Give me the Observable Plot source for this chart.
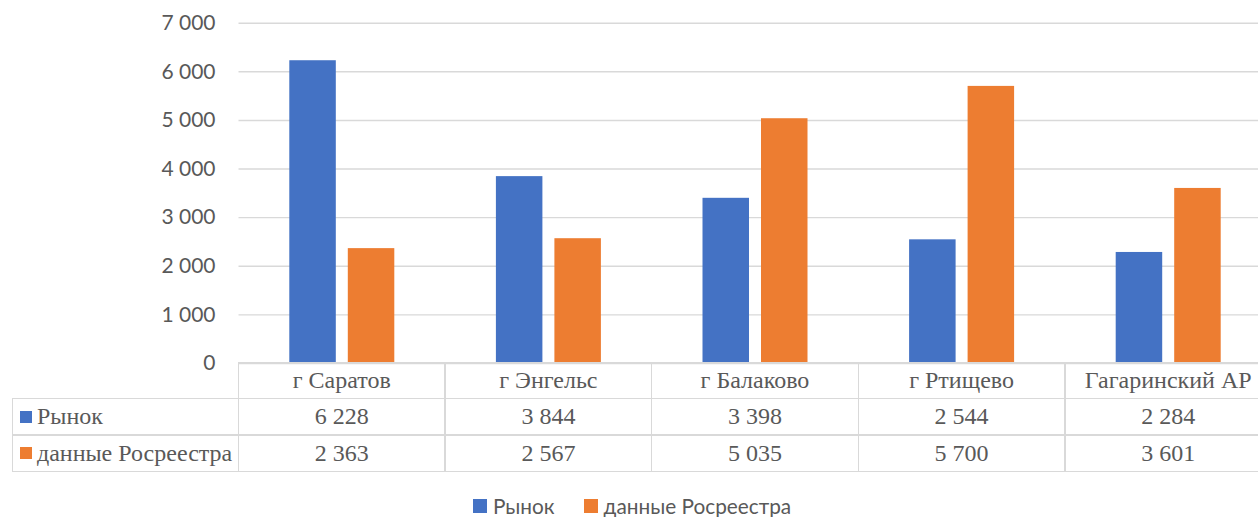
<!DOCTYPE html>
<html>
<head>
<meta charset="utf-8">
<script src="https://cdn.jsdelivr.net/npm/d3@7"></script>
<script src="https://cdn.jsdelivr.net/npm/@observablehq/plot@0.6"></script>
<style>
  html, body { margin: 0; padding: 0; background: #fff; overflow: hidden; }
  #wrap { position: relative; width: 1258px; height: 517px; overflow: hidden; }
  #chart { position: absolute; left: 0; top: 0; width: 1272px; }
  #chart svg { max-width: none !important; }
  .cell { position: absolute; box-sizing: border-box; border: 1.5px solid #d9d9d9;
          display: flex; align-items: center; justify-content: center;
          font-family: "Liberation Serif", "Times New Roman", serif; font-size: 24px; color: #595959;
          white-space: nowrap; overflow: hidden; }
  .cell.label { justify-content: flex-start; padding-left: 7px; }
  .sw { display: inline-block; width: 12px; height: 12px; margin-right: 5px; flex: none; }
  #legend { position: absolute; left: 473px; top: 495px; height: 21px; display: flex; align-items: center;
            font-family: Lato, "Open Sans", sans-serif; font-size: 20.8px; line-height: 21px; color: #595959; }
  #legend .item { display: flex; align-items: center; margin-right: 29px; }
  #legend .lsw { width: 14px; height: 14px; margin-right: 6px; flex: none; }
</style>
</head>
<body>
<div id="wrap">
  <div id="chart"></div>
  <div id="table"></div>
  <div id="legend"></div>
</div>
<script>
const categories = ["г Саратов", "г Энгельс", "г Балаково", "г Ртищево", "Гагаринский АР"];
const seriesNames = ["Рынок", "данные Росреестра"];
const market = [6228, 3844, 3398, 2544, 2284];
const rosreestr = [2363, 2567, 5035, 5700, 3601];
const yTicks = [0, 1000, 2000, 3000, 4000, 5000, 6000, 7000];
const colors = ["#4472C4", "#ED7D31"];

const fmt = d => d3.format(",")(d).replace(/,/g, " ");

const seriesValues = [market, rosreestr];
const data = categories.flatMap((c, i) =>
  seriesNames.map((s, j) => ({category: c, series: s, value: seriesValues[j][i]})));

const marginLeft = 238.5, width = 1272, marginRight = 0.5;
const marginTop = 22.7, zeroY = 363, height = 380;

const chart = Plot.plot({
  width, height,
  marginTop, marginBottom: height - zeroY, marginLeft, marginRight,
  style: {fontFamily: "Lato, 'Open Sans', sans-serif", fontSize: "21px", overflow: "visible", maxWidth: "none"},
  x: {domain: categories, padding: 0, axis: null, round: false},
  y: {domain: [0, 7000], axis: null},
  marks: [
    Plot.gridY(yTicks, {stroke: "#d9d9d9", strokeOpacity: 1, strokeWidth: 1.4}),
    Plot.axisY(yTicks, {tickSize: 0, tickPadding: 23.5, tickFormat: fmt, fill: "#595959", fontSize: 21, label: null}),
    Plot.barY(data.filter(d => d.series === seriesNames[0]),
      {x: "category", y: "value", fill: colors[0], insetLeft: 50.8, insetRight: 109.3}),
    Plot.barY(data.filter(d => d.series === seriesNames[1]),
      {x: "category", y: "value", fill: colors[1], insetLeft: 109.3, insetRight: 50.8})
  ]
});
chart.style.maxWidth = "none";
document.getElementById("chart").appendChild(chart);

// data table below the plot area
const table = document.getElementById("table");
const step = (width - marginLeft - marginRight) / categories.length;
const rowTops = [zeroY, 398.3, 435, 471.7];
const tableLeft = 12.7;
function cell(x0, x1, y0, y1, cls) {
  const d = document.createElement("div");
  d.className = "cell" + (cls ? " " + cls : "");
  d.style.left = (x0 - 0.75) + "px";
  d.style.top = (y0 - 0.75) + "px";
  d.style.width = (x1 - x0 + 1.5) + "px";
  d.style.height = (y1 - y0 + 1.5) + "px";
  table.appendChild(d);
  return d;
}
categories.forEach((c, i) => {
  const x0 = marginLeft + i * step;
  cell(x0, x0 + step, rowTops[0], rowTops[1]).textContent = c;
});
seriesNames.forEach((s, j) => {
  const y0 = rowTops[j + 1], y1 = rowTops[j + 2];
  const lab = cell(tableLeft, marginLeft, y0, y1, "label");
  const sw = document.createElement("span");
  sw.className = "sw"; sw.style.background = colors[j];
  lab.appendChild(sw);
  lab.appendChild(document.createTextNode(s));
  categories.forEach((c, i) => {
    const x0 = marginLeft + i * step;
    cell(x0, x0 + step, y0, y1).textContent = fmt(seriesValues[j][i]);
  });
});

// legend
const legend = document.getElementById("legend");
seriesNames.forEach((s, j) => {
  const it = document.createElement("div");
  it.className = "item";
  it.innerHTML = `<span class="lsw" style="background:${colors[j]}"></span><span>${s}</span>`;
  legend.appendChild(it);
});
</script>
</body>
</html>
